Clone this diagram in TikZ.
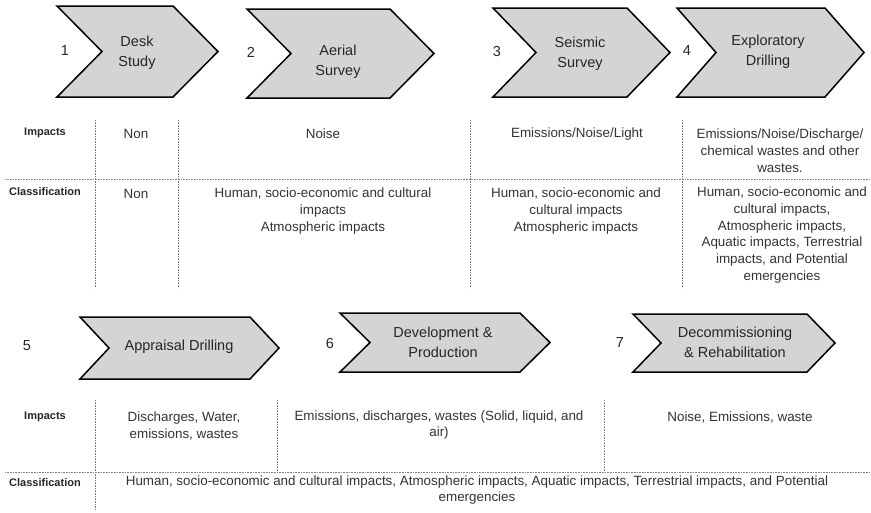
\documentclass[tikz,border=0pt]{standalone}
\usepackage{fontspec}
\setmainfont{Liberation Sans}
\begin{document}
\begin{tikzpicture}[x=1pt, y=-1pt,
    chev/.style={fill=black!17, draw=black, line width=1.5pt, line join=miter},
    steptxt/.style={font=\fontsize{14.5}{20}\selectfont, text=black!85, align=center, inner sep=0pt},
    rowhead/.style={font=\bfseries\fontsize{11}{13}\selectfont, text=black!85, inner sep=0pt},
    cell/.style={font=\fontsize{13.4}{16.8}\selectfont, text=black!80, align=center, inner sep=0pt},
    grid/.style={black!50, line width=0.8pt, dash pattern=on 0.8pt off 0.8pt}]
        % ==== DEFINITIONS ====
        \def\chevron#1#2#3#4#5{\filldraw[chev] (#1,#2) -- (#3,#2) -- ({#3+#5},{(#2+#4)/2}) -- (#3,#4) -- (#1,#4) -- ({#1+#5},{(#2+#4)/2}) -- cycle;}
        \def\rowA{179} % first table divider
        \def\rowB{472} % second table divider

        \useasboundingbox (0,0) rectangle (871,512);

        % ==== STEPS 1-4 ====
        \chevron{57}{6}{173}{97}{45}
        \chevron{247}{9}{390}{98}{44}
        \chevron{493}{8}{627}{97}{43}
        \chevron{677}{8}{825}{97}{39}
        \node[steptxt] (num1) at (65,51) {1};
        \node[steptxt] (step1) at (137,53) {Desk\\Study};
        \node[steptxt] (num2) at (251,52) {2};
        \node[steptxt] (step2) at (338,62) {Aerial\\Survey};
        \node[steptxt] (num3) at (497,52) {3};
        \node[steptxt] (step3) at (580,54) {Seismic\\Survey};
        \node[steptxt] (num4) at (687,51) {4};
        \node[steptxt] (step4) at (768,52) {Exploratory\\Drilling};

        % ==== TABLE 1 ====
        \draw[grid] (5,\rowA) -- (871,\rowA);
        \foreach \x in {95,178,470,682}
            \draw[grid] (\x,120) -- (\x,288);
        \node[rowhead] (impA) at (45,133) {Impacts};
        \node[rowhead] (clsA) at (45,192) {Classification};
        \node[cell] (impA1) at (136,134) {Non};
        \node[cell] (impA2) at (323,134) {Noise};
        \node[cell] (impA3) at (577,134) {Emissions/Noise/Light};
        \node[cell] (impA4) at (780,151) {Emissions/Noise/Discharge/\\chemical wastes and other\\wastes.};
        \node[cell] (clsA1) at (136,194) {Non};
        \node[cell] (clsA2) at (323,211) {Human, socio-economic and cultural\\impacts\\Atmospheric impacts};
        \node[cell] (clsA3) at (576,211) {Human, socio-economic and\\cultural impacts\\Atmospheric impacts};
        \node[cell] (clsA4) at (782,235) {Human, socio-economic and\\cultural impacts,\\Atmospheric impacts,\\Aquatic impacts, Terrestrial\\impacts, and Potential\\emergencies};

        % ==== STEPS 5-7 ====
        \chevron{80}{317}{250}{379}{29}
        \chevron{340}{313}{520}{372}{30}
        \chevron{633}{314}{807}{372}{28}
        \node[steptxt] (num5) at (27,346) {5};
        \node[steptxt] (step5) at (179,347) {Appraisal Drilling};
        \node[steptxt] (num6) at (330,344) {6};
        \node[steptxt] (step6) at (443,342) {Development \&\\Production};
        \node[steptxt] (num7) at (620,343) {7};
        \node[steptxt] (step7) at (735,342) {Decommissioning\\\& Rehabilitation};

        % ==== TABLE 2 ====
        \draw[grid] (5,\rowB) -- (871,\rowB);
        \draw[grid] (95,400) -- (95,510);
        \foreach \x in {277,604}
            \draw[grid] (\x,400) -- (\x,\rowB);
        \node[rowhead] (impB) at (45,417) {Impacts};
        \node[rowhead] (clsB) at (45,483) {Classification};
        \node[cell] (impB1) at (184,426) {Discharges, Water,\\emissions, wastes};
        \node[cell] (impB2) at (439,425) {Emissions, discharges, wastes (Solid, liquid, and\\air)};
        \node[cell] (impB3) at (740,417) {Noise, Emissions, waste};
        \node[cell] (clsB1) at (477,490) {Human, socio-economic and cultural impacts, Atmospheric impacts, Aquatic impacts, Terrestrial impacts, and Potential\\emergencies};

    \end{tikzpicture}
\end{document}
